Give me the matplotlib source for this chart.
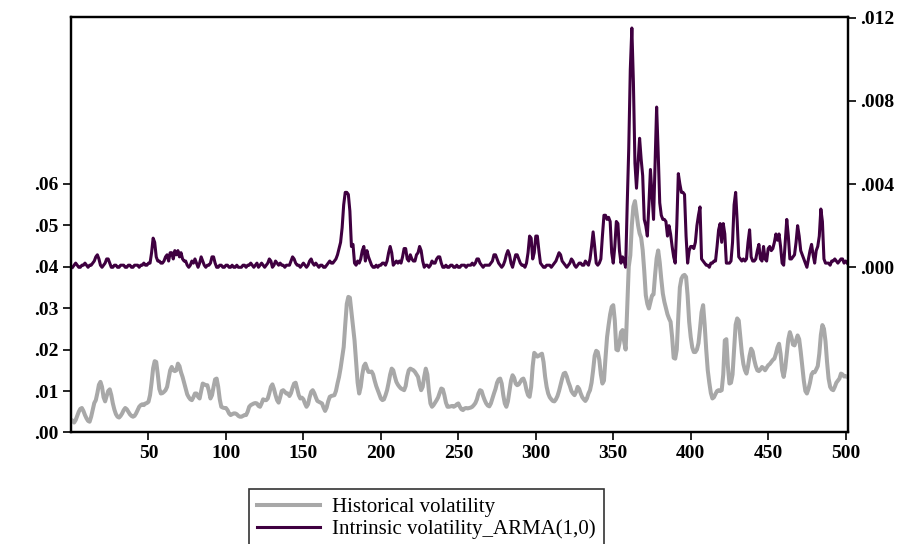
import numpy as np
import matplotlib
matplotlib.use("Agg")
import matplotlib.pyplot as plt

# ---------------- data ----------------
start_obs = 1
hist_vol = [
    0.0028, 0.0024, 0.0030, 0.0040, 0.0050, 0.0057, 0.0059, 0.0052, 0.0042, 0.0034,
    0.0028, 0.0026, 0.0038, 0.0055, 0.0071, 0.0078, 0.0095, 0.0115, 0.0122, 0.0110,
    0.0085, 0.0075, 0.0088, 0.0100, 0.0104, 0.0090, 0.0070, 0.0055, 0.0044, 0.0038,
    0.0036, 0.0040, 0.0046, 0.0054, 0.0059, 0.0056, 0.0050, 0.0044, 0.0040, 0.0038,
    0.0040, 0.0046, 0.0054, 0.0062, 0.0066, 0.0068, 0.0066, 0.0070, 0.0071, 0.0074,
    0.0090, 0.0120, 0.0155, 0.0172, 0.0170, 0.0140, 0.0105, 0.0094, 0.0095, 0.0098,
    0.0102, 0.0110, 0.0130, 0.0150, 0.0158, 0.0150, 0.0148, 0.0150, 0.0166, 0.0160,
    0.0145, 0.0134, 0.0120, 0.0105, 0.0092, 0.0085, 0.0080, 0.0078, 0.0085, 0.0094,
    0.0094, 0.0086, 0.0082, 0.0100, 0.0118, 0.0116, 0.0114, 0.0114, 0.0100, 0.0082,
    0.0090, 0.0110, 0.0128, 0.0130, 0.0110, 0.0080, 0.0062, 0.0060, 0.0059, 0.0059,
    0.0054, 0.0046, 0.0042, 0.0044, 0.0046, 0.0046, 0.0044, 0.0040, 0.0038, 0.0038,
    0.0040, 0.0042, 0.0042, 0.0050, 0.0062, 0.0066, 0.0068, 0.0070, 0.0071, 0.0070,
    0.0064, 0.0062, 0.0070, 0.0080, 0.0078, 0.0078, 0.0082, 0.0095, 0.0110, 0.0116,
    0.0105, 0.0090, 0.0078, 0.0072, 0.0085, 0.0100, 0.0102, 0.0098, 0.0094, 0.0094,
    0.0088, 0.0095, 0.0108, 0.0118, 0.0120, 0.0105, 0.0090, 0.0082, 0.0084, 0.0080,
    0.0070, 0.0062, 0.0068, 0.0085, 0.0098, 0.0102, 0.0095, 0.0085, 0.0076, 0.0074,
    0.0072, 0.0070, 0.0060, 0.0052, 0.0060, 0.0075, 0.0086, 0.0088, 0.0089, 0.0090,
    0.0100, 0.0118, 0.0134, 0.0155, 0.0180, 0.0206, 0.0260, 0.0310, 0.0327, 0.0325,
    0.0290, 0.0254, 0.0222, 0.0170, 0.0120, 0.0094, 0.0110, 0.0140, 0.0160, 0.0166,
    0.0155, 0.0146, 0.0146, 0.0147, 0.0140, 0.0125, 0.0112, 0.0102, 0.0092, 0.0082,
    0.0078, 0.0080, 0.0090, 0.0102, 0.0120, 0.0140, 0.0154, 0.0150, 0.0135, 0.0122,
    0.0115, 0.0110, 0.0106, 0.0104, 0.0102, 0.0112, 0.0135, 0.0150, 0.0154, 0.0152,
    0.0150, 0.0146, 0.0140, 0.0134, 0.0115, 0.0102, 0.0110, 0.0135, 0.0154, 0.0140,
    0.0100, 0.0070, 0.0062, 0.0066, 0.0072, 0.0078, 0.0085, 0.0096, 0.0106, 0.0104,
    0.0090, 0.0072, 0.0062, 0.0062, 0.0063, 0.0064, 0.0062, 0.0064, 0.0068, 0.0070,
    0.0062, 0.0056, 0.0054, 0.0058, 0.0059, 0.0058, 0.0059, 0.0060, 0.0062, 0.0066,
    0.0071, 0.0080, 0.0094, 0.0102, 0.0100, 0.0088, 0.0078, 0.0070, 0.0065, 0.0063,
    0.0070, 0.0082, 0.0094, 0.0105, 0.0120, 0.0128, 0.0130, 0.0118, 0.0090, 0.0070,
    0.0062, 0.0075, 0.0100, 0.0125, 0.0138, 0.0132, 0.0118, 0.0114, 0.0116, 0.0122,
    0.0128, 0.0130, 0.0120, 0.0102, 0.0090, 0.0086, 0.0110, 0.0160, 0.0192, 0.0188,
    0.0183, 0.0185, 0.0188, 0.0190, 0.0170, 0.0135, 0.0110, 0.0094, 0.0085, 0.0080,
    0.0076, 0.0075, 0.0080, 0.0088, 0.0100, 0.0115, 0.0130, 0.0142, 0.0144, 0.0135,
    0.0122, 0.0112, 0.0100, 0.0094, 0.0090, 0.0098, 0.0110, 0.0105, 0.0094, 0.0085,
    0.0080, 0.0076, 0.0082, 0.0094, 0.0102, 0.0120, 0.0150, 0.0185, 0.0197, 0.0194,
    0.0175, 0.0140, 0.0118, 0.0125, 0.0180, 0.0230, 0.0259, 0.0285, 0.0303, 0.0307,
    0.0270, 0.0200, 0.0198, 0.0215, 0.0242, 0.0247, 0.0220, 0.0200, 0.0300, 0.0400,
    0.0427, 0.0500, 0.0545, 0.0558, 0.0530, 0.0500, 0.0480, 0.0470, 0.0440, 0.0390,
    0.0331, 0.0310, 0.0299, 0.0315, 0.0330, 0.0333, 0.0380, 0.0420, 0.0439, 0.0410,
    0.0370, 0.0335, 0.0315, 0.0300, 0.0285, 0.0275, 0.0267, 0.0230, 0.0180, 0.0178,
    0.0200, 0.0280, 0.0350, 0.0371, 0.0378, 0.0380, 0.0375, 0.0330, 0.0267, 0.0230,
    0.0205, 0.0194, 0.0194, 0.0200, 0.0215, 0.0250, 0.0290, 0.0307, 0.0260, 0.0200,
    0.0150, 0.0120, 0.0095, 0.0082, 0.0085, 0.0093, 0.0100, 0.0102, 0.0100, 0.0102,
    0.0140, 0.0222, 0.0225, 0.0160, 0.0118, 0.0120, 0.0140, 0.0200, 0.0260, 0.0275,
    0.0270, 0.0230, 0.0192, 0.0165, 0.0150, 0.0142, 0.0160, 0.0185, 0.0202, 0.0195,
    0.0175, 0.0160, 0.0150, 0.0148, 0.0152, 0.0158, 0.0155, 0.0150, 0.0156, 0.0162,
    0.0165, 0.0170, 0.0175, 0.0178, 0.0190, 0.0205, 0.0214, 0.0190, 0.0150, 0.0134,
    0.0155, 0.0190, 0.0225, 0.0242, 0.0230, 0.0212, 0.0210, 0.0222, 0.0234, 0.0225,
    0.0195, 0.0160, 0.0125, 0.0100, 0.0094, 0.0105, 0.0120, 0.0140, 0.0146, 0.0145,
    0.0152, 0.0160, 0.0190, 0.0235, 0.0259, 0.0250, 0.0220, 0.0170, 0.0130, 0.0110,
    0.0104, 0.0102, 0.0110, 0.0120, 0.0125, 0.0130, 0.0142, 0.0140, 0.0135, 0.0136,
    0.0134,
]

intr_vol = [
    0.0000, 0.0001, 0.0002, 0.0001, 0.0000, 0.0000, 0.0001, 0.0001, 0.0002, 0.0001,
    0.0000, 0.0001, 0.0001, 0.0002, 0.0003, 0.0005, 0.0006, 0.0004, 0.0001, 0.0000,
    0.0001, 0.0002, 0.0004, 0.0004, 0.0002, 0.0000, 0.0000, 0.0001, 0.0001, 0.0000,
    0.0000, 0.0001, 0.0001, 0.0001, 0.0000, 0.0000, 0.0001, 0.0001, 0.0000, 0.0000,
    0.0001, 0.0001, 0.0001, 0.0000, 0.0001, 0.0001, 0.0002, 0.0001, 0.0001, 0.0002,
    0.0002, 0.0007, 0.0014, 0.0012, 0.0005, 0.0003, 0.0003, 0.0002, 0.0002, 0.0003,
    0.0005, 0.0006, 0.0003, 0.0007, 0.0007, 0.0004, 0.0008, 0.0006, 0.0008, 0.0005,
    0.0007, 0.0004, 0.0003, 0.0003, 0.0001, 0.0000, 0.0001, 0.0003, 0.0002, 0.0004,
    0.0002, 0.0000, 0.0002, 0.0005, 0.0003, 0.0001, 0.0000, 0.0001, 0.0001, 0.0002,
    0.0005, 0.0005, 0.0002, 0.0000, 0.0000, 0.0001, 0.0001, 0.0000, 0.0000, 0.0001,
    0.0001, 0.0000, 0.0000, 0.0001, 0.0000, 0.0000, 0.0001, 0.0000, 0.0000, 0.0000,
    0.0001, 0.0001, 0.0000, 0.0001, 0.0001, 0.0002, 0.0001, 0.0000, 0.0001, 0.0002,
    0.0000, 0.0001, 0.0002, 0.0001, 0.0000, 0.0001, 0.0002, 0.0004, 0.0003, 0.0000,
    0.0001, 0.0003, 0.0002, 0.0001, 0.0002, 0.0001, 0.0001, 0.0000, 0.0001, 0.0001,
    0.0001, 0.0003, 0.0005, 0.0004, 0.0002, 0.0001, 0.0001, 0.0000, 0.0001, 0.0002,
    0.0001, 0.0000, 0.0001, 0.0003, 0.0004, 0.0002, 0.0001, 0.0002, 0.0001, 0.0000,
    0.0001, 0.0001, 0.0000, 0.0000, 0.0001, 0.0002, 0.0003, 0.0002, 0.0002, 0.0003,
    0.0004, 0.0006, 0.0009, 0.0012, 0.0019, 0.0030, 0.0036, 0.0036, 0.0035, 0.0027,
    0.0010, 0.0011, 0.0002, 0.0001, 0.0003, 0.0002, 0.0004, 0.0008, 0.0010, 0.0003,
    0.0008, 0.0005, 0.0003, 0.0001, 0.0000, 0.0000, 0.0001, 0.0000, 0.0001, 0.0001,
    0.0002, 0.0002, 0.0001, 0.0003, 0.0007, 0.0010, 0.0007, 0.0001, 0.0002, 0.0003,
    0.0002, 0.0003, 0.0002, 0.0005, 0.0009, 0.0009, 0.0004, 0.0003, 0.0006, 0.0004,
    0.0003, 0.0003, 0.0006, 0.0007, 0.0010, 0.0008, 0.0003, 0.0000, 0.0001, 0.0001,
    0.0000, 0.0001, 0.0003, 0.0002, 0.0002, 0.0004, 0.0005, 0.0005, 0.0002, 0.0000,
    0.0000, 0.0001, 0.0000, 0.0000, 0.0001, 0.0001, 0.0000, 0.0000, 0.0001, 0.0000,
    0.0000, 0.0001, 0.0001, 0.0001, 0.0000, 0.0001, 0.0001, 0.0001, 0.0002, 0.0001,
    0.0002, 0.0004, 0.0004, 0.0002, 0.0001, 0.0000, 0.0001, 0.0001, 0.0001, 0.0001,
    0.0002, 0.0003, 0.0006, 0.0006, 0.0004, 0.0002, 0.0001, 0.0000, 0.0001, 0.0003,
    0.0006, 0.0008, 0.0006, 0.0002, 0.0000, 0.0003, 0.0006, 0.0006, 0.0004, 0.0002,
    0.0001, 0.0001, 0.0000, 0.0002, 0.0007, 0.0015, 0.0014, 0.0004, 0.0007, 0.0015,
    0.0015, 0.0008, 0.0002, 0.0001, 0.0000, 0.0000, 0.0001, 0.0001, 0.0001, 0.0000,
    0.0001, 0.0002, 0.0003, 0.0005, 0.0007, 0.0006, 0.0003, 0.0002, 0.0001, 0.0000,
    0.0001, 0.0002, 0.0004, 0.0003, 0.0001, 0.0000, 0.0001, 0.0002, 0.0002, 0.0001,
    0.0001, 0.0003, 0.0002, 0.0001, 0.0004, 0.0010, 0.0017, 0.0010, 0.0002, 0.0001,
    0.0002, 0.0004, 0.0015, 0.0025, 0.0025, 0.0023, 0.0024, 0.0022, 0.0007, 0.0002,
    0.0010, 0.0022, 0.0021, 0.0008, 0.0002, 0.0005, 0.0003, 0.0000, 0.0030, 0.0057,
    0.0095, 0.0115, 0.0089, 0.0050, 0.0038, 0.0050, 0.0062, 0.0052, 0.0044, 0.0023,
    0.0020, 0.0015, 0.0030, 0.0047, 0.0035, 0.0023, 0.0050, 0.0077, 0.0055, 0.0031,
    0.0025, 0.0023, 0.0023, 0.0022, 0.0015, 0.0020, 0.0016, 0.0010, 0.0005, 0.0002,
    0.0020, 0.0045, 0.0040, 0.0036, 0.0036, 0.0035, 0.0015, 0.0002, 0.0008, 0.0010,
    0.0010, 0.0009, 0.0012, 0.0020, 0.0025, 0.0029, 0.0004, 0.0003, 0.0002, 0.0001,
    0.0001, 0.0000, 0.0002, 0.0002, 0.0003, 0.0003, 0.0010, 0.0018, 0.0021, 0.0012,
    0.0021, 0.0016, 0.0002, 0.0002, 0.0002, 0.0003, 0.0012, 0.0030, 0.0036, 0.0022,
    0.0005, 0.0004, 0.0003, 0.0004, 0.0003, 0.0004, 0.0012, 0.0018, 0.0005, 0.0003,
    0.0003, 0.0004, 0.0008, 0.0011, 0.0004, 0.0003, 0.0010, 0.0004, 0.0003, 0.0009,
    0.0010, 0.0008, 0.0009, 0.0012, 0.0016, 0.0013, 0.0016, 0.0010, 0.0002, 0.0001,
    0.0012, 0.0023, 0.0015, 0.0004, 0.0004, 0.0005, 0.0006, 0.0012, 0.0020, 0.0015,
    0.0008, 0.0006, 0.0004, 0.0002, 0.0000, 0.0004, 0.0008, 0.0011, 0.0006, 0.0002,
    0.0008, 0.0010, 0.0015, 0.0028, 0.0022, 0.0004, 0.0002, 0.0002, 0.0002, 0.0001,
    0.0003, 0.0003, 0.0004, 0.0003, 0.0002, 0.0003, 0.0004, 0.0004, 0.0002, 0.0003,
    0.0002,
]

x_ticks = [50, 100, 150, 200, 250, 300, 350, 400, 450, 500]
left_ticks = [0.00, 0.01, 0.02, 0.03, 0.04, 0.05, 0.06]
left_tick_labels = [".00", ".01", ".02", ".03", ".04", ".05", ".06"]
right_ticks = [0.000, 0.004, 0.008, 0.012]
right_tick_labels = [".000", ".004", ".008", ".012"]
series_labels = ["Historical volatility", "Intrinsic volatility_ARMA(1,0)"]

# ---------------- plot ----------------
obs = np.arange(start_obs, start_obs + len(hist_vol))
obs2 = np.arange(start_obs, start_obs + len(intr_vol))

GRAY = "#a8a8a8"
PURPLE = "#3f0040"
tick_font = {"family": "Liberation Serif", "weight": "bold", "size": 14}

fig = plt.figure(figsize=(9.2, 5.44), dpi=100)
ax_r = fig.add_axes([0.0772, 0.205, 0.8445, 0.7638])   # right axis (purple)
ax_l = ax_r.twinx()                                       # left axis (gray)

ln2, = ax_r.plot(obs2, intr_vol, color=PURPLE, lw=2.2, solid_joinstyle="round")
ln1, = ax_l.plot(obs, hist_vol, color=GRAY, lw=2.9, solid_joinstyle="round")

ax_r.set_xlim(0, 501.5)
ax_r.set_ylim(-0.00794, 0.01203)
ax_l.set_ylim(0.0, 0.1002)

ax_r.yaxis.tick_right()
ax_r.set_yticks(right_ticks)
ax_r.set_yticklabels(right_tick_labels, fontdict=tick_font)
ax_l.yaxis.tick_left()
ax_l.set_yticks(left_ticks)
ax_l.set_yticklabels(left_tick_labels, fontdict=tick_font)

ax_r.set_xticks(x_ticks)
ax_r.set_xticklabels([str(v) for v in x_ticks], fontdict=tick_font)

for a in (ax_r, ax_l):
    a.tick_params(axis="both", direction="out", length=6, width=1.2, color="black", pad=3)
    for s in a.spines.values():
        s.set_linewidth(1.6)
        s.set_color("black")

leg = fig.legend([ln1, ln2], series_labels, loc="upper left",
                 bbox_to_anchor=(249 / 920, 1 - 489 / 544),
                 frameon=True, fancybox=False, edgecolor="black",
                 prop={"family": "Liberation Serif", "size": 15},
                 handlelength=3.0, handletextpad=0.6, borderpad=0.4,
                 labelspacing=0.12, borderaxespad=0)
leg.get_frame().set_linewidth(1.2)

fig.savefig("out.png", dpi=100)
